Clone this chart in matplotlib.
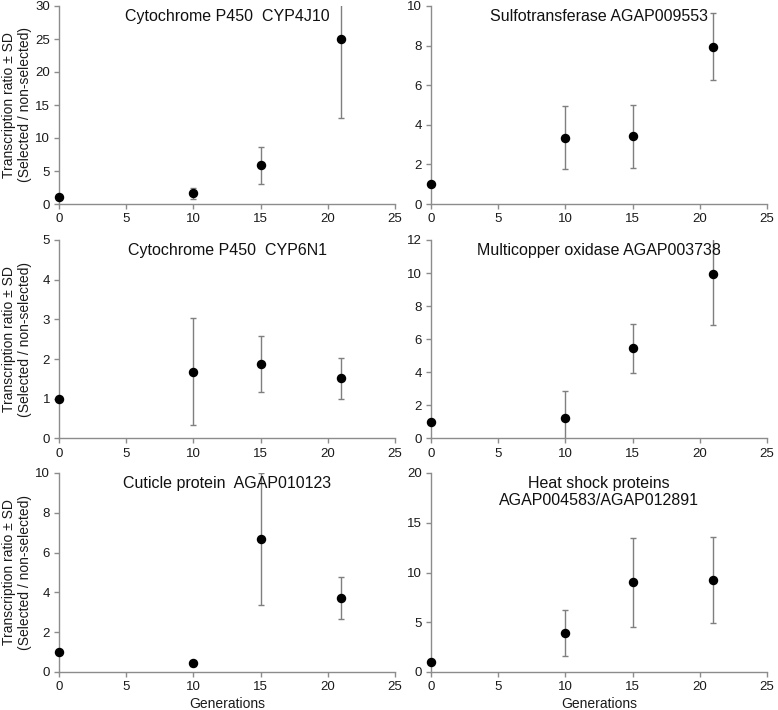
import matplotlib
matplotlib.use("Agg")
import matplotlib.pyplot as plt

plt.rcParams['font.family'] = ['Liberation Sans', 'DejaVu Sans']

generations = [0, 10, 15, 21]

titles = [
    "Cytochrome P450  CYP4J10",
    "Sulfotransferase AGAP009553",
    "Cytochrome P450  CYP6N1",
    "Multicopper oxidase AGAP003738",
    "Cuticle protein  AGAP010123",
    "Heat shock proteins\nAGAP004583/AGAP012891",
]

cyp4j10_mean = [1.0, 1.6, 5.9, 25.0]
cyp4j10_sd = [0.0, 0.8, 2.8, 11.9]

sulfo_mean = [1.0, 3.35, 3.42, 7.95]
sulfo_sd = [0.0, 1.6, 1.6, 1.7]

cyp6n1_mean = [1.0, 1.68, 1.88, 1.52]
cyp6n1_sd = [0.0, 1.35, 0.7, 0.52]

mco_mean = [1.0, 1.25, 5.45, 9.95]
mco_sd = [0.0, 1.65, 1.5, 3.1]

cuticle_mean = [1.0, 0.43, 6.68, 3.7]
cuticle_sd = [0.0, 0.12, 3.3, 1.05]

hsp_mean = [1.0, 3.9, 9.0, 9.25]
hsp_sd = [0.0, 2.3, 4.5, 4.3]

ymax = [30, 10, 5, 12, 10, 20]
ystep = [5, 2, 1, 2, 2, 5]

means = [cyp4j10_mean, sulfo_mean, cyp6n1_mean, mco_mean, cuticle_mean, hsp_mean]
sds = [cyp4j10_sd, sulfo_sd, cyp6n1_sd, mco_sd, cuticle_sd, hsp_sd]

fig = plt.figure(figsize=(7.78, 7.10), dpi=100)

W, H = 778, 710
lefts = [59, 431]
width = 336
tops = [6, 240, 473]
bottoms = [204, 438.5, 672]

gray = '#8c8c8c'
for i in range(6):
    r, c = divmod(i, 2)
    x0 = lefts[c] / W
    y0 = 1 - bottoms[r] / H
    h = (bottoms[r] - tops[r]) / H
    ax = fig.add_axes([x0, y0, width / W, h])
    ax.errorbar(generations, means[i], yerr=sds[i], fmt='none',
                ecolor='#7f7f7f', elinewidth=1.0, capsize=2.5,
                capthick=1.0, zorder=2)
    ax.plot(generations, means[i], 'o', color='black', markersize=5.8,
            zorder=3, clip_on=False)
    ax.set_xlim(0, 25)
    ax.set_ylim(0, ymax[i])
    ax.set_xticks(range(0, 26, 5))
    yt = list(range(0, ymax[i] + 1, ystep[i]))
    ax.set_yticks(yt)
    for s in ['top', 'right']:
        ax.spines[s].set_visible(False)
    for s in ['left', 'bottom']:
        ax.spines[s].set_color(gray)
        ax.spines[s].set_linewidth(1.0)
    ax.tick_params(axis='both', direction='out', length=3.5, width=1.0,
                   color=gray, labelsize=9.5, labelcolor='#1a1a1a', pad=3)
    ax.text(0.5, 0.985, titles[i], transform=ax.transAxes, ha='center', va='top',
            fontsize=11.5, color='#111111', linespacing=1.15)
    if c == 0:
        ax.set_ylabel("Transcription ratio \u00b1 SD\n(Selected / non-selected)",
                      fontsize=10, color='#1a1a1a', linespacing=1.1)
        ax.yaxis.set_label_coords((17 - lefts[0]) / width, 0.5)
        ax.yaxis.label.set_va('center')
    if r == 2:
        ax.set_xlabel("Generations", fontsize=10, color='#1a1a1a', labelpad=3)

fig.savefig("out.png", dpi=100)
